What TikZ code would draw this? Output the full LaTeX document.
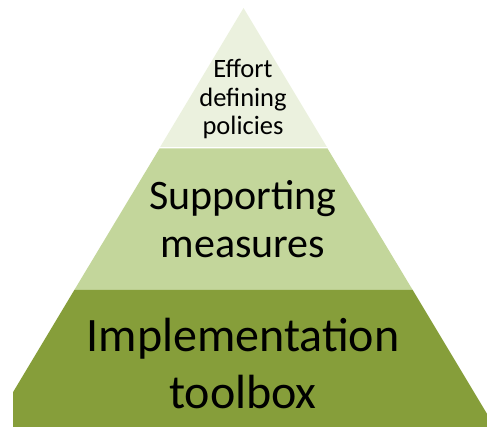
\documentclass[tikz,border=0pt]{standalone}
\usepackage{fontspec}
\setmainfont{Carlito}
\definecolor{tierTop}{RGB}{235,241,222}
\definecolor{tierMid}{RGB}{195,214,155}
\definecolor{tierBase}{RGB}{134,158,58}
\begin{document}
\begin{tikzpicture}[x=1pt,y=-1pt,
  tierlabel/.style={align=center,inner sep=0pt,text=black}]
\useasboundingbox (0,0) rectangle (487,427);
% three stacked bands of one triangle (apex at 243.5,8; sides of slope 0.6)
\fill[tierTop] (243.5,8) -- (326.9,147) -- (160.1,147) -- cycle;
\fill[tierMid] (159.5,148.5) -- (327.5,148.5) -- (412.7,290) -- (74.3,290) -- cycle;
\fill[tierBase] (74.3,290) -- (412.7,290) -- (487,413.8) -- (487,427)
  -- (13,427) -- (13,392.2) -- cycle;
% labels
\node[tierlabel,font=\fontsize{26.5}{28.5}\selectfont] (policy) at (243,99)
  {Effort\\defining\\policies};
\node[tierlabel,font=\fontsize{42}{48}\selectfont] (support) at (243,219)
  {Supporting\\measures};
\node[tierlabel,font=\fontsize{48}{57}\selectfont] (toolbox) at (243,364)
  {Implementation\\toolbox};
\end{tikzpicture}
\end{document}
